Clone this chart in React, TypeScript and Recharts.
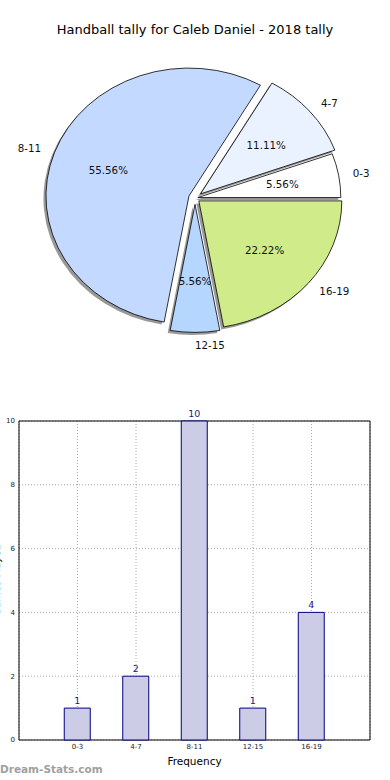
import { Bar, BarChart, CartesianGrid, LabelList, Pie, PieChart, ReferenceArea, XAxis, YAxis } from "recharts";

// tally buckets and how many games fell in each
const categories = ["0-3", "4-7", "8-11", "12-15", "16-19"];
const counts = [1, 2, 10, 1, 4];
const sliceColors = ["#FFFFFF", "#EBF2FF", "#C4D9FF", "#B4D6FF", "#CFEB8A"];
const explode = [0.02, 0.05, 0.045, 0.05, 0.035];
const yTicks = [0, 2, 4, 6, 8, 10];
const xTicks = [1, 2, 3, 4, 5];

const pieData = categories.map((name, i) => ({ name, value: counts[i] }));
const barData = categories.map((name, i) => ({ pos: i + 1, name, count: counts[i] }));

const FONT = "'DejaVu Sans', sans-serif";
const ASPECT = 0.895; // the pie was drawn squashed vertically
const RAD = Math.PI / 180;

const wedgePath = (ox: number, oy: number, rx: number, ry: number, start: number, end: number) => {
    const x1 = ox + rx * Math.cos(start * RAD);
    const y1 = oy - ry * Math.sin(start * RAD);
    const x2 = ox + rx * Math.cos(end * RAD);
    const y2 = oy - ry * Math.sin(end * RAD);
    const large = end - start > 180 ? 1 : 0;
    return `M${ox},${oy} L${x1},${y1} A${rx},${ry} 0 ${large} 0 ${x2},${y2} Z`;
};

const origin = (p: any) => {
    const rx = p.outerRadius;
    const ry = p.outerRadius * ASPECT;
    const mid = p.midAngle * RAD;
    const e = explode[p.index];
    return { rx, ry, mid, ox: p.cx + e * rx * Math.cos(mid), oy: p.cy - e * ry * Math.sin(mid) };
};

const shadowLabel = (p: any) => {
    const { rx, ry, ox, oy } = origin(p);
    return (
        <path
            d={wedgePath(ox - 2.5, oy + 2.5, rx, ry, p.startAngle, p.endAngle)}
            fill="#333"
            fillOpacity={0.5}
            stroke="none"
        />
    );
};

const sliceLabel = (p: any) => {
    const { rx, ry, mid, ox, oy } = origin(p);
    const c = Math.cos(mid);
    const s = Math.sin(mid);
    return (
        <g>
            <path
                d={wedgePath(ox, oy, rx, ry, p.startAngle, p.endAngle)}
                fill={sliceColors[p.index]}
                stroke="#000"
                strokeWidth={0.8}
            />
            <text
                x={ox + 0.6 * rx * c}
                y={oy - 0.6 * ry * s}
                textAnchor="middle"
                dominantBaseline="central"
                fontSize={10.3}
                fontFamily={FONT}
                fill="#111"
            >
                {(p.percent * 100).toFixed(2)}%
            </text>
            <text
                x={ox + 1.1 * rx * c}
                y={oy - 1.1 * ry * s}
                textAnchor={c > -0.01 ? "start" : "end"}
                dominantBaseline="central"
                fontSize={10.3}
                fontFamily={FONT}
                fill="#111"
            >
                {categories[p.index]}
            </text>
        </g>
    );
};

export default function App() {
    return (
        <div style={{ position: "absolute", top: 0, left: 0, width: 390, height: 780, background: "#fff", overflow: "hidden" }}>
            <div
                style={{
                    position: "absolute",
                    top: 22,
                    left: 0,
                    width: 390,
                    textAlign: "center",
                    fontFamily: FONT,
                    fontSize: 13,
                    lineHeight: "16px",
                    color: "#000",
                }}
            >
                Handball tally for Caleb Daniel - 2018 tally
            </div>
            <div style={{ position: "absolute", top: 0, left: 0 }}>
                <PieChart width={390} height={380} margin={{ top: 0, right: 0, bottom: 0, left: 0 }}>
                    <Pie
                        data={pieData}
                        dataKey="value"
                        nameKey="name"
                        cx={195}
                        cy={198}
                        outerRadius={143}
                        startAngle={0}
                        endAngle={360}
                        fill="none"
                        stroke="none"
                        label={shadowLabel}
                        labelLine={false}
                        isAnimationActive={false}
                    />
                    <Pie
                        data={pieData}
                        dataKey="value"
                        nameKey="name"
                        cx={195}
                        cy={198}
                        outerRadius={143}
                        startAngle={0}
                        endAngle={360}
                        fill="none"
                        stroke="none"
                        label={sliceLabel}
                        labelLine={false}
                        isAnimationActive={false}
                    />
                </PieChart>
            </div>
            <div style={{ position: "absolute", top: 400, left: 0 }}>
                <BarChart width={390} height={380} data={barData} margin={{ top: 21, right: 20, bottom: 10, left: 0 }}>
                    <XAxis
                        type="number"
                        dataKey="pos"
                        domain={[0, 6]}
                        ticks={xTicks}
                        tickFormatter={(v: number) => categories[v - 1]}
                        axisLine={false}
                        tickLine={false}
                        tickSize={0}
                        tickMargin={4}
                        height={30}
                        tick={{ fontSize: 7, fill: "#222", fontFamily: FONT }}
                        label={{ value: "Frequency", position: "insideBottom", offset: 5, fontSize: 10.5, fill: "#000", fontFamily: FONT }}
                    />
                    <YAxis
                        type="number"
                        domain={[0, 10]}
                        ticks={yTicks}
                        width={19}
                        axisLine={false}
                        tickLine={false}
                        tickSize={0}
                        tickMargin={4}
                        tick={{ fontSize: 7, fill: "#222", fontFamily: FONT }}
                    />
                    <Bar dataKey="count" barSize={26} fill="#CCCCE6" stroke="#000080" strokeWidth={1} isAnimationActive={false}>
                        <LabelList dataKey="count" position="top" offset={4} fill="#1a1a8a" fontSize={9.5} fontFamily={FONT} />
                    </Bar>
                    <CartesianGrid strokeDasharray="1 2" stroke="#a8a8a8" />
                    <ReferenceArea x1={0} x2={6} y1={0} y2={10} fill="none" stroke="#000" strokeOpacity={1} fillOpacity={0} />
                </BarChart>
            </div>
            <div
                style={{
                    position: "absolute",
                    left: -45,
                    top: 574,
                    width: 84,
                    textAlign: "center",
                    transform: "rotate(-90deg)",
                    fontFamily: FONT,
                    fontSize: 10,
                    lineHeight: "12px",
                    color: "#000",
                }}
            >
                Games Played
            </div>
            <div
                style={{
                    position: "absolute",
                    left: 0,
                    top: 763,
                    fontFamily: FONT,
                    fontWeight: "bold",
                    fontSize: 10.5,
                    lineHeight: "13px",
                    color: "#a0a0a0",
                }}
            >
                Dream-Stats.com
            </div>
        </div>
    );
}
